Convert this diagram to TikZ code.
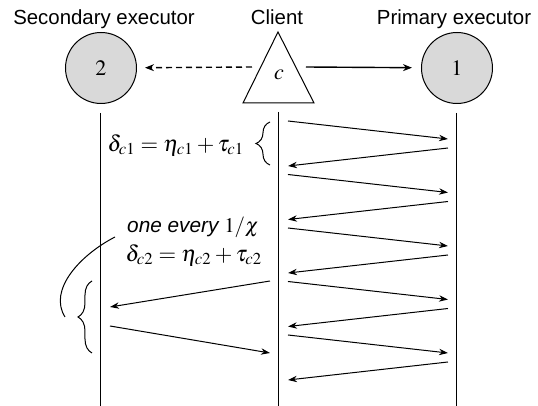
\documentclass[tikz,border=0pt]{standalone}
\usepackage{mathptmx}
\usepackage[no-math]{fontspec}
\setmainfont{Liberation Serif}
\setsansfont{Liberation Sans}
\usetikzlibrary{arrows.meta, decorations.pathreplacing, calc}
\definecolor{execGray}{RGB}{217, 217, 217}

\begin{document}
\begin{tikzpicture}[x=0.5pt, y=-0.5pt,
    every node/.style={inner sep=0pt},
    title/.style={font=\sffamily\fontsize{10.2}{12}\selectfont, anchor=base},
    executor/.style={circle, draw, fill=execGray, line width=0.5pt,
        minimum size=35.5pt, font=\fontsize{11}{13}\selectfont},
    lifeline/.style={line width=0.5pt},
    msg/.style={line width=0.5pt, -{Stealth[length=4.5pt, width=3.2pt]}},
    note/.style={font=\fontsize{11.3}{13}\selectfont},
    bracket/.style={decorate, decoration={brace, amplitude=7pt}, line width=0.5pt}]
    \useasboundingbox (0,0) rectangle (538,406);

    % titles
    \node[title] (secTitle) at (104,25) {Secondary executor};
    \node[title] (cliTitle) at (277,25) {Client};
    \node[title] (priTitle) at (454,25) {Primary executor};

    % executors and client
    \node[executor] (sec) at (101,68) {$2$};
    \node[executor] (pri) at (457,68) {$1$};
    \draw[line width=0.5pt] (278,32) -- (243,103) -- (314,103) -- cycle;
    \node[font=\fontsize{11}{13}\selectfont] (cli) at (279,75) {$c$};
    \coordinate (cliW) at (252,67);
    \coordinate (cliE) at (306,67);

    \draw[line width=0.7pt, dashed, dash pattern=on 3pt off 2pt,
        -{Stealth[length=4.5pt, width=3.5pt]}, shorten >=4pt] (cliW) -- (sec);
    \draw[line width=0.7pt, -{Stealth[length=4.5pt, width=3.5pt]},
        shorten >=4.5pt] (cliE) -- (pri);

    % lifelines
    \coordinate (bot) at (0,406);
    \coordinate (cliTop) at (279,112);
    \draw[lifeline] ([yshift=-4.5pt]sec.south) -- (sec |- bot);
    \draw[lifeline] (cliTop) -- (cliTop |- bot);
    \draw[lifeline] ([yshift=-4.5pt]pri.south) -- (pri |- bot);

    % client <-> primary round trips
    \foreach \k in {0,...,4} {
        \pgfmathsetmacro{\yy}{121+53.5*\k}
        \draw[msg] (288,\yy) -- (448,\yy+18);
        \draw[msg] (448,\yy+27) -- (288,\yy+45);
    }

    % occasional round trip to the secondary
    \coordinate (cliOut) at (270,281);
    \coordinate (secIn) at (110,307);
    \coordinate (secOut) at (110,326);
    \coordinate (cliIn) at (270,353);
    \draw[msg] (cliOut) -- (secIn);
    \draw[msg] (secOut) -- (cliIn);

    % delays
    \draw[bracket] (270,165) -- (270,122);
    \node[note] (delayOne) at (176,145) {$\delta_{c1} = \eta_{c1} + \tau_{c1}$};

    \draw[bracket] (92,353) -- (92,281);
    \node[font=\sffamily\itshape\fontsize{10.4}{12}\selectfont] (every) at (193,227)
        {one every $1/\chi$};
    \node[note] (delayTwo) at (194,255) {$\delta_{c2} = \eta_{c2} + \tau_{c2}$};
    \coordinate (leadA) at (65,317);
    \coordinate (leadB) at (115,237);
    \draw[line width=0.5pt] (leadA) .. controls (48,290) and (80,255) .. (leadB);
\end{tikzpicture}
\end{document}
